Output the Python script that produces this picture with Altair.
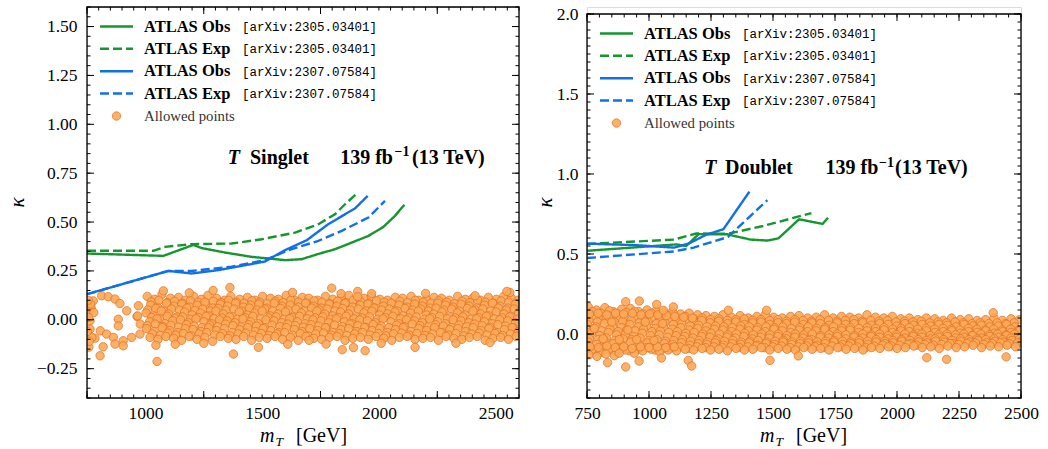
import math
import altair as alt
import pandas as pd

# ---------------- data ----------------
SERIES = ["Obs 2305", "Exp 2305", "Obs 2307", "Exp 2307"]

# Singlet panel limit curves
s_obs2305_x = [750, 1077, 1205, 1241, 1341, 1455, 1541, 1598, 1669, 1741, 1812, 1884, 1955, 2019, 2069, 2109]
s_obs2305_y = [0.339, 0.327, 0.383, 0.367, 0.344, 0.322, 0.312, 0.305, 0.31, 0.337, 0.361, 0.395, 0.429, 0.475, 0.532, 0.588]
s_exp2305_x = [750, 1034, 1084, 1198, 1370, 1498, 1641, 1741, 1812, 1855, 1905]
s_exp2305_y = [0.353, 0.353, 0.373, 0.387, 0.39, 0.412, 0.446, 0.489, 0.54, 0.591, 0.645]
s_obs2307_x = [750, 1098, 1198, 1312, 1412, 1512, 1598, 1691, 1783, 1898, 1952]
s_obs2307_y = [0.131, 0.25, 0.237, 0.254, 0.276, 0.298, 0.356, 0.407, 0.489, 0.57, 0.634]
s_exp2307_x = [750, 1098, 1198, 1370, 1512, 1612, 1741, 1841, 1955, 2026]
s_exp2307_y = [0.131, 0.25, 0.25, 0.272, 0.305, 0.356, 0.404, 0.455, 0.523, 0.608]

# Doublet panel limit curves
d_obs2305_x = [750, 1110, 1150, 1200, 1315, 1410, 1478, 1522, 1605, 1700, 1722]
d_obs2305_y = [0.52, 0.56, 0.55, 0.624, 0.623, 0.59, 0.584, 0.598, 0.717, 0.688, 0.727]
d_exp2305_x = [750, 1100, 1190, 1320, 1460, 1655]
d_exp2305_y = [0.563, 0.59, 0.628, 0.627, 0.675, 0.756]
d_obs2307_x = [750, 950, 1100, 1160, 1230, 1300, 1405]
d_obs2307_y = [0.565, 0.555, 0.54, 0.565, 0.62, 0.655, 0.89]
d_exp2307_x = [750, 1100, 1180, 1318, 1477]
d_exp2307_y = [0.475, 0.516, 0.54, 0.606, 0.836]

# Allowed points, singlet
singlet_sparse = [(752,.03),(756,.046),(758,-.14),(763,-.005),(763,-.048),(768,.06),(777,.097),(779,.037),
    (784,-.094),(806,-.184),(807,-.056),(813,.123),(819,-.138),(834,-.073),(841,.118),(863,-.09),(870,.106),
    (870,-.124),(884,.003),(884,-.031),(891,.083),(905,-.107),(905,-.133),(920,.046),(941,-.09),(964,.017),
    (967,.02),(970,.072),(977,-.073),(978,-.022),(757,.012),(771,-.09),(760,-.11),(766,.08),(752,-.06),(755,.1)]
singlet_band = [
    (1008,.12),(1040,.105),(1071,.13),(1108,.11),(1142,.115),(1170,.10),(1207,.12),(1240,.105),(1268,.125),(1305,.11),
    (1338,.10),(1366,.12),(1404,.105),(1437,.115),(1470,.10),(1502,.12),(1536,.11),(1569,.105),(1603,.125),(1640,.10),
    (1672,.115),(1700,.11),(1738,.10),(1771,.12),(1803,.105),(1840,.115),(1871,.125),(1905,.10),(1937,.11),(1968,.12),
    (2004,.105),(2036,.10),(2070,.115),(2101,.11),(2138,.12),(2170,.10),(2203,.105),(2236,.115),(2268,.11),(2301,.10),
    (2337,.12),(2370,.105),(2402,.11),(2436,.10),(2469,.115),(2503,.105),(2535,.12),(2568,.11),(2596,.10),
    (1025,.092),(1058,.1),(1093,.088),(1125,.095),(1158,.085),(1193,.098),(1226,.09),(1258,.082),(1291,.095),(1324,.088),
    (1357,.1),(1390,.09),(1423,.085),(1456,.097),(1490,.09),(1523,.082),(1556,.095),(1590,.088),(1623,.1),(1656,.09),
    (1690,.085),(1723,.097),(1756,.09),(1790,.082),(1823,.095),(1856,.088),(1890,.1),(1923,.09),(1956,.085),(1990,.097),
    (2023,.09),(2056,.082),(2090,.095),(2123,.088),(2156,.1),(2190,.09),(2223,.085),(2256,.097),(2290,.09),(2323,.082),
    (2356,.095),(2390,.088),(2423,.1),(2456,.09),(2490,.085),(2523,.097),(2556,.09),(2590,.082),
    (1022,.075),(1055,.06),(1090,.085),(1123,.07),(1156,.08),(1190,.065),(1222,.075),(1255,.09),(1289,.06),(1321,.08),
    (1352,.07),(1386,.085),(1420,.065),(1452,.075),(1486,.08),(1519,.06),(1552,.085),(1586,.07),(1620,.075),(1655,.065),
    (1686,.085),(1719,.07),(1754,.06),(1787,.08),(1820,.07),(1855,.085),(1888,.065),(1920,.075),(1953,.08),(1986,.06),
    (2020,.07),(2053,.085),(2086,.075),(2120,.065),(2153,.08),(2186,.07),(2220,.06),(2252,.085),(2285,.075),(2318,.065),
    (2352,.08),(2386,.07),(2419,.06),(2452,.075),(2486,.085),(2519,.07),(2552,.06),(2584,.08),
    (1010,.05),(1045,.058),(1078,.045),(1112,.055),(1146,.05),(1178,.06),(1212,.048),(1245,.055),(1279,.045),(1312,.058),
    (1345,.05),(1379,.055),(1412,.045),(1445,.06),(1479,.05),(1512,.055),(1545,.045),(1579,.058),(1612,.05),(1645,.055),
    (1679,.045),(1712,.06),(1745,.05),(1779,.055),(1812,.045),(1845,.058),(1879,.05),(1912,.055),(1945,.045),(1979,.06),
    (2012,.05),(2045,.055),(2079,.045),(2112,.058),(2145,.05),(2179,.055),(2212,.045),(2245,.06),(2279,.05),(2312,.055),
    (2345,.045),(2379,.058),(2412,.05),(2445,.055),(2479,.045),(2512,.06),(2545,.05),(2579,.055),
    (1003,.035),(1035,.02),(1068,.045),(1100,.03),(1135,.015),(1168,.04),(1200,.025),(1236,.035),(1270,.02),(1302,.045),
    (1334,.03),(1370,.015),(1402,.04),(1436,.025),(1468,.035),(1500,.045),(1535,.02),(1568,.03),(1600,.04),(1634,.015),
    (1668,.035),(1702,.025),(1735,.045),(1768,.03),(1802,.02),(1836,.04),(1870,.03),(1903,.015),(1936,.035),(1970,.045),
    (2003,.025),(2037,.03),(2069,.04),(2104,.02),(2136,.035),(2169,.045),(2203,.025),(2235,.03),(2270,.04),(2303,.015),
    (2336,.035),(2369,.025),(2403,.045),(2436,.03),(2470,.02),(2502,.04),(2536,.03),(2569,.015),(2598,.035),
    (1027,.012),(1060,.005),(1094,.018),(1127,.008),(1160,.015),(1194,.003),(1227,.012),(1260,.018),(1294,.005),(1327,.01),
    (1360,.015),(1394,.003),(1427,.012),(1460,.018),(1494,.005),(1527,.01),(1560,.015),(1594,.003),(1627,.012),(1660,.018),
    (1694,.005),(1727,.01),(1760,.015),(1794,.003),(1827,.012),(1860,.018),(1894,.005),(1927,.01),(1960,.015),(1994,.003),
    (2027,.012),(2060,.018),(2094,.005),(2127,.01),(2160,.015),(2194,.003),(2227,.012),(2260,.018),(2294,.005),(2327,.01),
    (2360,.015),(2394,.003),(2427,.012),(2460,.018),(2494,.005),(2527,.01),(2560,.015),(2593,.003),
    (1018,-.01),(1050,.005),(1084,-.02),(1117,-.005),(1150,.0),(1184,-.015),(1217,.005),(1251,-.01),(1284,-.02),(1318,.0),
    (1350,-.005),(1384,-.015),(1418,.005),(1450,-.01),(1484,-.02),(1517,.0),(1551,-.005),(1584,-.015),(1618,.005),(1651,-.01),
    (1684,-.02),(1718,.0),(1752,-.005),(1785,-.015),(1818,.005),(1852,-.01),(1885,-.02),(1918,.0),(1951,-.005),(1985,-.015),
    (2018,.005),(2052,-.01),(2085,-.02),(2118,.0),(2152,-.005),(2185,-.015),(2218,.005),(2252,-.01),(2285,-.02),(2318,.0),
    (2352,-.005),(2385,-.015),(2418,.005),(2452,-.01),(2485,-.02),(2518,.0),(2552,-.005),(2585,-.015),
    (1008,-.03),(1042,-.022),(1076,-.035),(1109,-.028),(1143,-.038),(1176,-.025),(1209,-.032),(1243,-.04),(1276,-.027),(1310,-.035),
    (1343,-.022),(1376,-.03),(1410,-.038),(1443,-.025),(1476,-.032),(1510,-.04),(1543,-.027),(1576,-.035),(1610,-.022),(1643,-.03),
    (1676,-.038),(1710,-.025),(1743,-.032),(1776,-.04),(1810,-.027),(1843,-.035),(1876,-.022),(1910,-.03),(1943,-.038),(1976,-.025),
    (2010,-.032),(2043,-.04),(2076,-.027),(2110,-.035),(2143,-.022),(2176,-.03),(2210,-.038),(2243,-.025),(2276,-.032),(2310,-.04),
    (2343,-.027),(2376,-.035),(2410,-.022),(2443,-.03),(2476,-.038),(2510,-.025),(2543,-.032),(2576,-.04),
    (1005,-.045),(1038,-.06),(1072,-.04),(1104,-.055),(1138,-.065),(1171,-.045),(1204,-.05),(1238,-.06),(1271,-.04),(1305,-.055),
    (1338,-.045),(1371,-.065),(1404,-.05),(1438,-.04),(1471,-.06),(1504,-.045),(1538,-.055),(1571,-.065),(1604,-.04),(1638,-.05),
    (1671,-.06),(1704,-.045),(1738,-.055),(1771,-.04),(1804,-.065),(1838,-.05),(1871,-.045),(1904,-.06),(1938,-.04),(1971,-.055),
    (2004,-.045),(2038,-.065),(2071,-.05),(2104,-.04),(2138,-.06),(2171,-.045),(2204,-.055),(2238,-.04),(2271,-.065),(2304,-.05),
    (2338,-.045),(2371,-.06),(2404,-.04),(2438,-.055),(2471,-.045),(2504,-.065),(2538,-.05),(2571,-.04),(2597,-.06),
    (1030,-.072),(1063,-.08),(1097,-.068),(1130,-.078),(1163,-.07),(1197,-.082),(1230,-.072),(1263,-.065),(1297,-.078),(1330,-.07),
    (1363,-.082),(1397,-.072),(1430,-.068),(1463,-.078),(1497,-.07),(1530,-.08),(1563,-.072),(1597,-.065),(1630,-.078),(1663,-.07),
    (1697,-.082),(1730,-.072),(1763,-.068),(1797,-.078),(1830,-.07),(1863,-.08),(1897,-.072),(1930,-.065),(1963,-.078),(1997,-.07),
    (2030,-.082),(2063,-.072),(2097,-.068),(2130,-.078),(2163,-.07),(2197,-.08),(2230,-.072),(2263,-.065),(2297,-.078),(2330,-.07),
    (2363,-.082),(2397,-.072),(2430,-.068),(2463,-.078),(2497,-.07),(2530,-.08),(2563,-.072),(2597,-.065),
    (1020,-.09),(1054,-.1),(1088,-.085),(1121,-.095),(1155,-.105),(1188,-.085),(1221,-.1),(1255,-.09),(1288,-.11),(1321,-.085),
    (1355,-.095),(1388,-.1),(1421,-.085),(1455,-.105),(1488,-.09),(1521,-.095),(1555,-.085),(1588,-.1),(1621,-.09),(1655,-.105),
    (1688,-.085),(1721,-.095),(1755,-.1),(1788,-.09),(1821,-.085),(1855,-.105),(1888,-.095),(1921,-.09),(1955,-.1),(1988,-.085),
    (2021,-.095),(2055,-.105),(2088,-.09),(2121,-.085),(2155,-.1),(2188,-.095),(2221,-.09),(2255,-.105),(2288,-.085),(2321,-.095),
    (2355,-.1),(2388,-.09),(2421,-.085),(2455,-.105),(2488,-.095),(2521,-.09),(2555,-.1),(2588,-.085)]
singlet_outliers = [(1077,.148),(1362,.165),(1798,.162),(1290,.15),(1909,.145),(1909,.118),(1838,.134),(1969,.134),
    (2561,.14),(2548,.145),(2412,.123),(1630,.14),(1188,.138),(2200,.135),(1050,-.213),(1377,-.175),(1484,-.141),
    (1843,-.153),(1891,-.142),(1941,-.158),(2155,-.141),(2476,-.116),(1774,-.124),(1701,-.105),(1128,-.125),
    (1045,-.13),(1250,-.12),(1610,-.125),(2330,-.12),(2010,-.12)]

# Allowed points, doublet
doublet_band = [
    (755,.17),(788,.15),(822,.165),(856,.14),(890,.155),(925,.16),(958,.14),(992,.15),(1027,.145),(1060,.135),
    (1095,.14),(1128,.125),(1162,.13),(1196,.12),(1230,.115),(1264,.11),(1298,.12),(1333,.105),(1367,.115),(1400,.1),
    (1435,.11),(1469,.12),(1503,.105),(1537,.1),(1571,.11),(1605,.115),(1640,.1),(1674,.105),(1708,.12),(1742,.1),
    (1776,.11),(1810,.105),(1845,.1),(1879,.12),(1913,.105),(1947,.1),(1981,.11),(2015,.095),(2050,.1),(2084,.09),
    (2118,.1),(2152,.095),(2186,.085),(2220,.1),(2255,.09),(2289,.095),(2323,.085),(2357,.09),(2391,.1),(2425,.085),
    (2460,.095),(2494,.09),
    (772,.14),(806,.13),(840,.145),(874,.125),(908,.135),(942,.14),(976,.125),(1010,.13),(1044,.12),(1078,.115),
    (1112,.105),(1146,.11),(1180,.095),(1214,.1),(1248,.09),(1282,.095),(1316,.085),(1350,.09),(1384,.095),(1418,.085),
    (1452,.09),(1486,.085),(1520,.09),(1554,.08),(1588,.09),(1622,.085),(1656,.08),(1690,.09),(1724,.085),(1758,.08),
    (1792,.085),(1826,.09),(1860,.08),(1894,.085),(1928,.08),(1962,.085),(1996,.075),(2030,.08),(2064,.075),(2098,.08),
    (2132,.07),(2166,.075),(2200,.07),(2234,.075),(2268,.07),(2302,.065),(2336,.07),(2370,.065),(2404,.07),(2438,.065),
    (2472,.07),
    (770,.11),(805,.09),(838,.115),(872,.1),(907,.085),(940,.11),(975,.095),(1010,.1),(1043,.085),(1077,.095),
    (1111,.08),(1145,.09),(1179,.075),(1213,.085),(1247,.07),(1281,.08),(1316,.065),(1350,.075),(1384,.06),(1418,.07),
    (1452,.075),(1486,.06),(1520,.07),(1554,.065),(1588,.075),(1622,.06),(1657,.07),(1691,.065),(1725,.055),(1759,.07),
    (1793,.06),(1827,.065),(1862,.07),(1896,.055),(1930,.065),(1964,.06),(1998,.05),(2032,.065),(2066,.055),(2101,.06),
    (2135,.05),(2169,.06),(2203,.055),(2237,.045),(2271,.06),(2306,.05),(2340,.055),(2374,.045),(2408,.05),(2442,.06),
    (2476,.045),
    (758,.085),(792,.075),(826,.09),(860,.075),(894,.08),(928,.085),(962,.07),(996,.075),(1030,.065),(1064,.07),
    (1098,.06),(1132,.065),(1166,.05),(1200,.055),(1234,.045),(1268,.05),(1302,.045),(1336,.04),(1370,.05),(1404,.045),
    (1438,.04),(1472,.045),(1506,.04),(1540,.045),(1574,.035),(1608,.04),(1642,.045),(1676,.035),(1710,.04),(1744,.045),
    (1778,.035),(1812,.04),(1846,.035),(1880,.04),(1914,.035),(1948,.04),(1982,.03),(2016,.035),(2050,.04),(2084,.03),
    (2118,.035),(2152,.03),(2186,.035),(2220,.03),(2254,.025),(2288,.035),(2322,.03),(2356,.025),(2390,.03),(2424,.025),
    (2458,.03),(2492,.025),
    (752,.06),(786,.045),(820,.065),(854,.05),(889,.04),(923,.06),(957,.045),(991,.05),(1025,.035),(1059,.045),
    (1094,.03),(1128,.04),(1162,.025),(1196,.035),(1230,.02),(1264,.03),(1299,.025),(1333,.015),(1367,.03),(1401,.02),
    (1435,.025),(1469,.015),(1504,.03),(1538,.02),(1572,.01),(1606,.025),(1640,.015),(1674,.02),(1709,.03),(1743,.015),
    (1777,.02),(1811,.025),(1845,.01),(1879,.02),(1914,.015),(1948,.025),(1982,.01),(2016,.02),(2050,.015),(2084,.005),
    (2119,.02),(2153,.01),(2187,.015),(2221,.02),(2255,.005),(2289,.015),(2324,.01),(2358,.02),(2392,.005),(2426,.015),
    (2460,.01),(2494,.02),
    (774,.025),(808,.02),(842,.03),(876,.015),(910,.025),(944,.02),(978,.03),(1012,.015),(1046,.02),(1080,.01),
    (1114,.015),(1148,.005),(1182,.01),(1216,.0),(1250,.005),(1284,.0),(1318,-.005),(1352,.0),(1386,.005),(1420,-.005),
    (1454,.0),(1488,-.005),(1522,.0),(1556,-.01),(1590,.0),(1624,-.005),(1658,.0),(1692,-.01),(1726,-.005),(1760,.0),
    (1794,-.005),(1828,-.01),(1862,.0),(1896,-.005),(1930,.0),(1964,-.01),(1998,-.005),(2032,.0),(2066,-.005),(2100,.0),
    (2134,-.01),(2168,-.005),(2202,.0),(2236,-.005),(2270,.0),(2304,-.01),(2338,.0),(2372,-.005),(2406,.0),(2440,-.005),
    (2474,.0),
    (768,.005),(802,-.01),(836,.01),(870,-.005),(905,.0),(939,-.015),(973,.005),(1007,-.01),(1041,-.005),(1075,-.02),
    (1110,-.01),(1144,-.015),(1178,-.025),(1212,-.015),(1246,-.02),(1280,-.03),(1315,-.02),(1349,-.025),(1383,-.015),(1417,-.03),
    (1451,-.02),(1485,-.025),(1520,-.015),(1554,-.03),(1588,-.02),(1622,-.025),(1656,-.035),(1690,-.02),(1725,-.025),(1759,-.015),
    (1793,-.03),(1827,-.02),(1861,-.025),(1895,-.015),(1930,-.02),(1964,-.03),(1998,-.02),(2032,-.025),(2066,-.015),(2100,-.02),
    (2135,-.03),(2169,-.02),(2203,-.015),(2237,-.025),(2271,-.02),(2305,-.01),(2340,-.025),(2374,-.015),(2408,-.02),(2442,-.01),
    (2476,-.02),
    (760,-.03),(794,-.035),(828,-.025),(862,-.04),(896,-.03),(930,-.035),(964,-.025),(998,-.04),(1032,-.035),(1066,-.045),
    (1100,-.04),(1134,-.035),(1168,-.045),(1202,-.04),(1236,-.05),(1270,-.04),(1304,-.045),(1338,-.04),(1372,-.05),(1406,-.045),
    (1440,-.04),(1474,-.05),(1508,-.045),(1542,-.04),(1576,-.05),(1610,-.045),(1644,-.04),(1678,-.05),(1712,-.045),(1746,-.04),
    (1780,-.045),(1814,-.05),(1848,-.04),(1882,-.045),(1916,-.035),(1950,-.045),(1984,-.04),(2018,-.035),(2052,-.04),(2086,-.035),
    (2120,-.04),(2154,-.03),(2188,-.035),(2222,-.04),(2256,-.03),(2290,-.035),(2324,-.03),(2358,-.035),(2392,-.03),(2426,-.035),
    (2460,-.025),(2494,-.03),
    (755,-.05),(789,-.065),(823,-.045),(857,-.06),(891,-.07),(926,-.05),(960,-.065),(994,-.055),(1028,-.07),(1062,-.06),
    (1096,-.065),(1131,-.055),(1165,-.07),(1199,-.06),(1233,-.065),(1267,-.055),(1301,-.07),(1336,-.06),(1370,-.065),(1404,-.055),
    (1438,-.07),(1472,-.06),(1506,-.065),(1541,-.05),(1575,-.065),(1609,-.06),(1643,-.055),(1677,-.07),(1711,-.06),(1746,-.05),
    (1780,-.065),(1814,-.06),(1848,-.055),(1882,-.065),(1916,-.05),(1951,-.06),(1985,-.055),(2019,-.045),(2053,-.06),(2087,-.05),
    (2121,-.055),(2156,-.045),(2190,-.05),(2224,-.06),(2258,-.045),(2292,-.05),(2326,-.04),(2361,-.055),(2395,-.045),(2429,-.05),
    (2463,-.04),(2497,-.05),
    (752,-.09),(786,-.1),(820,-.085),(854,-.1),(888,-.09),(922,-.105),(956,-.095),(990,-.085),(1024,-.1),(1058,-.09),
    (1092,-.085),(1126,-.08),(1160,-.09),(1194,-.08),(1228,-.085),(1262,-.08),(1296,-.085),(1330,-.08),(1364,-.085),(1398,-.08),
    (1432,-.075),(1466,-.085),(1500,-.08),(1534,-.075),(1568,-.085),(1602,-.08),(1636,-.075),(1670,-.08),(1704,-.085),(1738,-.075),
    (1772,-.08),(1806,-.075),(1840,-.08),(1874,-.085),(1908,-.075),(1942,-.07),(1976,-.075),(2010,-.07),(2044,-.065),(2078,-.07),
    (2112,-.065),(2146,-.07),(2180,-.065),(2214,-.06),(2248,-.065),(2282,-.06),(2316,-.055),(2350,-.065),(2384,-.06),(2418,-.055),
    (2452,-.06),(2486,-.055),
    (770,-.1),(804,-.115),(838,-.095),(872,-.11),(906,-.1),(941,-.12),(975,-.105),(1009,-.095),(1043,-.11),(1077,-.1),
    (1111,-.105),(1146,-.095),(1180,-.1),(1214,-.09),(1248,-.1),(1282,-.095),(1316,-.105),(1351,-.09),(1385,-.1),(1419,-.095),
    (1453,-.085),(1487,-.1),(1521,-.09),(1556,-.095),(1590,-.1),(1624,-.085),(1658,-.095),(1692,-.09),(1726,-.1),(1761,-.085),
    (1795,-.095),(1829,-.09),(1863,-.1),(1897,-.085),(1931,-.09),(1966,-.08),(2000,-.09),(2034,-.085),(2068,-.075),(2102,-.085),
    (2136,-.08),(2171,-.09),(2205,-.075),(2239,-.085),(2273,-.08),(2307,-.07),(2341,-.085),(2376,-.075),(2410,-.08),(2444,-.07),
    (2478,-.08),
    (760,.125),(795,.13),(830,.12),(865,.13),(898,.125),(933,.13),(968,.12),(1002,.125),(1036,.12),(1070,.115),(1104,.11),
    (1140,.105),(1175,.1),
    (762,-.08),(796,-.085),(830,-.075),(864,-.085),(898,-.08),(932,-.09),(966,-.08),(1000,-.085),(1034,-.08),(1068,-.085),(1102,-.08),
    (758,-.13),(790,-.14),(826,-.125),(860,-.135),(880,-.12),
    (780,.035),(815,-.03),(850,.075),(880,-.035),(915,.025),(950,-.035),(985,.075),(1020,-.04),(1055,.065)]
doublet_outliers = [(906,.202),(961,.206),(1031,.185),(1098,.169),(1058,.148),(1474,.148),(1320,.148),(2388,.133),
    (906,-.206),(960,-.169),(1158,-.165),(1172,-.2),(833,-.179),(1488,-.165),(1602,-.137),(2120,-.148),(2200,-.158),
    (2440,-.143),(1050,-.15)]

# tick positions / labels
s_xlabels = [1000, 1500, 2000, 2500]
s_ylabels = [-0.25, 0.0, 0.25, 0.5, 0.75, 1.0, 1.25, 1.5]
d_xlabels = [750, 1000, 1250, 1500, 1750, 2000, 2250, 2500]
d_ylabels = [0.0, 0.5, 1.0, 1.5, 2.0]

LEGEND = [("ATLAS Obs", "[arXiv:2305.03401]"), ("ATLAS Exp", "[arXiv:2305.03401]"),
          ("ATLAS Obs", "[arXiv:2307.07584]"), ("ATLAS Exp", "[arXiv:2307.07584]")]

# ---------------- style ----------------
GREEN = "#16962e"
BLUE = "#1170e8"
PT_FILL = "#fca957"
PT_EDGE = "#e2762a"
SERIF = "Liberation Serif"
MONO = "Liberation Mono"
COLORS = [GREEN, GREEN, BLUE, BLUE]
DASHES = [[1, 0], [9, 4], [1, 0], [9, 4]]
ONE = pd.DataFrame({"a": [0]})
H = 391


def lines_df(sets):
    rows = []
    for name, (xs, ys) in zip(SERIES, sets):
        for x, y in zip(xs, ys):
            rows.append({"x": x, "y": y, "s": name})
    return pd.DataFrame(rows)


def pts_df(*groups):
    rows = []
    for g in groups:
        rows += [{"x": x, "y": y} for x, y in g]
    return pd.DataFrame(rows)


def text(t, x, y, size, weight="normal", style="normal", font=SERIF, align="left", baseline="alphabetic", color="black"):
    return alt.Chart(ONE).mark_text(text=t, font=font, fontSize=size, fontWeight=weight, fontStyle=style,
                                    align=align, baseline=baseline, color=color).encode(
        x=alt.value(x), y=alt.value(y))


def panel(pts, lines, xdom, ydom, W, top, xlabels, ylabels, yfmt, xstep_major, xstep_minor, ystep_major, ystep_minor,
          ann, ylab_pad, kx, ky):
    xs = alt.Scale(domain=xdom, nice=False, zero=False)
    ys = alt.Scale(domain=ydom, nice=False, zero=False, range=[H, top])
    xaxis = alt.Axis(values=xlabels, format="d", title=None, ticks=False, tickSize=0, domain=False, grid=False,
                     labelFlush=False, labelOverlap=False, labelPadding=6, labelFont=SERIF, labelFontSize=17.5,
                     labelColor="black")
    yaxis = alt.Axis(values=ylabels, format=yfmt, title="κ", ticks=False, tickSize=0, domain=False, grid=False,
                     labelFlush=False, labelOverlap=False, labelPadding=ylab_pad, labelFont=SERIF,
                     labelFontSize=17.5, labelColor="black", titleFont=SERIF, titleFontStyle="italic",
                     titleFontWeight="normal", titleFontSize=21, titleColor="black", titleX=kx, titleY=ky,
                     titleAlign="center", titleBaseline="middle")
    X = alt.X("x:Q", scale=xs, axis=xaxis)
    Y = alt.Y("y:Q", scale=ys, axis=yaxis)

    layers = []
    layers.append(alt.Chart(pts).mark_circle(size=70, color=PT_FILL, stroke=PT_EDGE, strokeWidth=0.9,
                                             opacity=0.9, clip=True).encode(x=X, y=Y))
    layers.append(alt.Chart(lines).mark_line(strokeWidth=2.4, clip=True).encode(
        x=X, y=Y,
        color=alt.Color("s:N", scale=alt.Scale(domain=SERIES, range=COLORS), legend=None),
        strokeDash=alt.StrokeDash("s:N", scale=alt.Scale(domain=SERIES, range=DASHES), legend=None)))

    # frame
    layers.append(alt.Chart(ONE).mark_rect(fillOpacity=0, stroke="black", strokeWidth=1.3).encode(
        x=alt.value(0), x2=alt.value(W), y=alt.value(top), y2=alt.value(H)))

    # inward ticks on all four sides
    def xticks(step, ln):
        vals = list(range(xdom[0], xdom[1] + 1, step))
        d = pd.DataFrame({"x": vals})
        b = alt.Chart(d).mark_rule(color="black", strokeWidth=1).encode(x=X, y=alt.value(H), y2=alt.value(H - ln))
        t = alt.Chart(d).mark_rule(color="black", strokeWidth=1).encode(x=X, y=alt.value(top), y2=alt.value(top + ln))
        return [b, t]

    def yticks(step, ln):
        n0 = math.ceil(round(ydom[0] / step, 6))
        n1 = math.floor(round(ydom[1] / step, 6))
        vals = [round(k * step, 4) for k in range(n0, n1 + 1)]
        d = pd.DataFrame({"y": vals})
        l = alt.Chart(d).mark_rule(color="black", strokeWidth=1).encode(y=Y, x=alt.value(0), x2=alt.value(ln))
        r = alt.Chart(d).mark_rule(color="black", strokeWidth=1).encode(y=Y, x=alt.value(W), x2=alt.value(W - ln))
        return [l, r]

    layers += xticks(xstep_minor, 3.5) + xticks(xstep_major, 7)
    layers += yticks(ystep_minor, 3.5) + yticks(ystep_major, 7)

    # legend
    rows_y = [top + v for v in (19.5, 41.8, 64.2, 86.5, 109)]
    for i, (lab, ref) in enumerate(LEGEND):
        layers.append(alt.Chart(ONE).mark_rule(color=COLORS[i], strokeWidth=2.4, strokeDash=DASHES[i]).encode(
            x=alt.value(13), x2=alt.value(46), y=alt.value(rows_y[i])))
        layers.append(text(lab, 57, rows_y[i] + 5, 16.5, weight="bold"))
        layers.append(text(ref, 155, rows_y[i] + 4.5, 12.5, font=MONO))
    layers.append(alt.Chart(ONE).mark_circle(size=70, color=PT_FILL, stroke=PT_EDGE, strokeWidth=0.9,
                                             opacity=0.9).encode(x=alt.value(29.5), y=alt.value(rows_y[4])))
    layers.append(text("Allowed points", 57, rows_y[4] + 4.5, 14.8, color="#333333"))

    # annotation
    name, tx, nx, fbx, supx, tevx, base, supbase = ann
    layers.append(text("T", tx, top + base, 20, weight="bold", style="italic"))
    layers.append(text(name, nx, top + base, 20, weight="bold"))
    layers.append(text("139 fb", fbx, top + base, 20, weight="bold", align="right"))
    layers.append(text("−1", supx, top + supbase, 14, weight="bold"))
    layers.append(text("(13 TeV)", tevx, top + base, 20, weight="bold"))

    # x-axis title m_T [GeV]
    layers.append(text("m", 173, H + 44, 20, style="italic"))
    layers.append(text("T", 188.5, H + 48, 13.5, style="italic"))
    layers.append(text("[GeV]", 209, H + 44, 20))

    return alt.layer(*layers).properties(width=W, height=H)


left = panel(pts_df(singlet_sparse, singlet_band, singlet_outliers),
             lines_df([(s_obs2305_x, s_obs2305_y), (s_exp2305_x, s_exp2305_y),
                       (s_obs2307_x, s_obs2307_y), (s_exp2307_x, s_exp2307_y)]),
             [750, 2600], [-0.4, 1.6], 432, 0, s_xlabels, s_ylabels, ".2f", 500, 50, 0.25, 0.05,
             ("Singlet", 140.7, 163, 306, 307.5, 325, 156.5, 149), 10, -70, 195)

right = panel(pts_df(doublet_band, doublet_outliers),
              lines_df([(d_obs2305_x, d_obs2305_y), (d_exp2305_x, d_exp2305_y),
                        (d_obs2307_x, d_obs2307_y), (d_exp2307_x, d_exp2307_y)]),
              [750, 2500], [-0.4, 2.0], 434, 7, d_xlabels, d_ylabels, ".1f", 250, 50, 0.5, 0.05,
              ("Doublet", 117.3, 138, 291.3, 292, 308, 160.3, 152.5), 9, -42, 195)

chart = alt.hconcat(left, right, spacing=12).properties(
    padding={"left": 5, "top": 4, "right": 0, "bottom": 0}
).configure_view(strokeWidth=0).configure(background="white")

chart.save("out.html", embed_options={"renderer": "svg", "actions": False})
